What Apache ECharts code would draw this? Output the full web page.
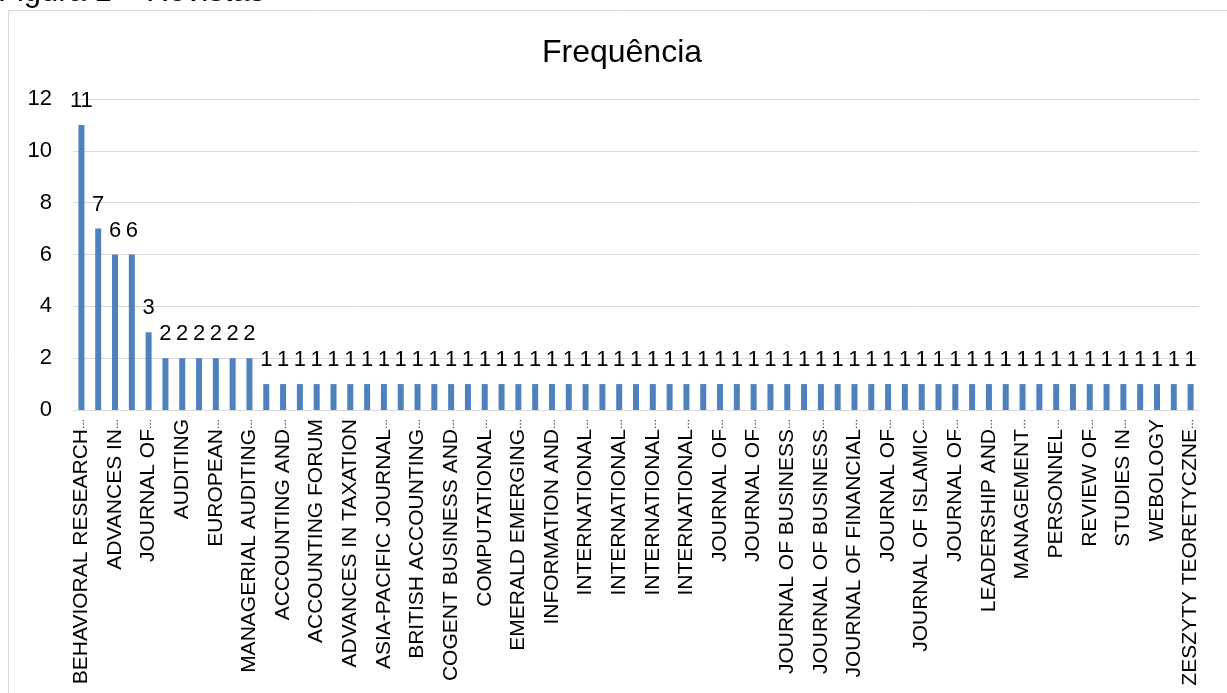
<!DOCTYPE html>
<html><head><meta charset="utf-8">
<script src="https://cdn.jsdelivr.net/npm/echarts@6/dist/echarts.min.js"></script>
<style>html,body{margin:0;padding:0;background:#fff}#c{width:1227px;height:693px}</style>
</head><body><div id="c"></div>
<script>
const pageTitle = 'Figura 1 – Revistas';
const chartTitle = 'Frequência';
const categories = [
 'BEHAVIORAL RESEARCH…','AUDITING: A JOURNAL…','ADVANCES IN…','ACCOUNTING HORIZONS','JOURNAL OF…',
 'CONTEMPORARY…','AUDITING','CURRENT ISSUES IN…','EUROPEAN…','JOURNAL OF ACCOUNTING…',
 'MANAGERIAL AUDITING…','ACCOUNTING','ACCOUNTING AND…','ACCOUNTING AND FINANCE','ACCOUNTING FORUM',
 'ACCOUNTING RESEARCH…','ADVANCES IN TAXATION','AFRICAN JOURNAL…','ASIA-PACIFIC JOURNAL…','AUSTRALIAN ACCOUNTING…',
 'BRITISH ACCOUNTING…','BUSINESS ETHICS…','COGENT BUSINESS AND…','COGENT ECONOMICS…','COMPUTATIONAL…',
 'CORPORATE GOVERNANCE…','EMERALD EMERGING…','FINANCIAL INNOVATION','INFORMATION AND…','INTERNATIONAL…',
 'INTERNATIONAL…','INTERNATIONAL…','INTERNATIONAL…','INTERNATIONAL…','INTERNATIONAL…',
 'INTERNATIONAL…','INTERNATIONAL…','JOURNAL OF…','JOURNAL OF…','JOURNAL OF…',
 'JOURNAL OF…','JOURNAL OF…','JOURNAL OF BUSINESS…','JOURNAL OF BUSINESS…','JOURNAL OF BUSINESS…',
 'JOURNAL OF…','JOURNAL OF FINANCIAL…','JOURNAL OF…','JOURNAL OF…','JOURNAL OF…',
 'JOURNAL OF ISLAMIC…','JOURNAL OF…','JOURNAL OF…','JOURNAL OF…','LEADERSHIP AND…',
 'MANAGEMENT…','MANAGEMENT…','MANAGERIAL FINANCE','PERSONNEL…','QUALITATIVE RESEARCH…',
 'REVIEW OF…','SOCIAL RESPONSIBILITY…','STUDIES IN…','SUSTAINABILITY','WEBOLOGY',
 'WORLD REVIEW OF…','ZESZYTY TEORETYCZNE…'
];
const values = [
 11,7,6,6,3,
 2,2,2,2,2,2,
 1,1,1,1,1,1,1,1,1,1,1,1,1,1,1,1,1,1,1,1,1,1,1,1,1,1,1,1,1,1,1,1,1,1,1,1,1,1,1,1,1,1,1,1,1,1,1,1,1,1,1,1,1,1,1,1
];
const yTicks = [0,2,4,6,8,10,12];

const font = '"Liberation Sans", Arial, sans-serif';
const chart = echarts.init(document.getElementById('c'));
chart.setOption({
  animation:false,
  graphic:[
    {type:'rect', shape:{x:8.5,y:10.5,width:1230,height:700}, style:{fill:'none',stroke:'#d9d9d9',lineWidth:1}, z:-1},
    {type:'text', left:-2, top:-23, style:{text:pageTitle, font:'31px '+font, fill:'#000'}}
  ],
  title:{text:chartTitle, left:617, top:32, textAlign:'center',
    textStyle:{fontFamily:font, fontSize:32, fontWeight:'normal', color:'#000'}},
  grid:{left:73, right:28, top:99, bottom:283, containLabel:false},
  xAxis:{type:'category', data:categories,
    axisLine:{lineStyle:{color:'#d9d9d9', width:1}},
    axisTick:{show:false},
    axisLabel:{interval:1, rotate:90, margin:9, fontFamily:font, fontSize:21, color:'#000',
      formatter:s=>s.endsWith('…') ? '{t|'+s.slice(0,-1)+'}{e|…}' : '{t|'+s+'}',
      rich:{t:{fontFamily:font, fontSize:21, color:'#000'},
            e:{fontFamily:font, fontSize:10, color:'#000'}}}},
  yAxis:{type:'value', min:0, max:12, interval:2,
    axisLine:{show:false}, axisTick:{show:false},
    axisLabel:{fontFamily:font, fontSize:22, color:'#000', margin:21,
      formatter:v=>yTicks.includes(v)?String(v):''},
    splitLine:{lineStyle:{color:'#d9d9d9', width:1}}},
  series:[{type:'bar', data:values, barWidth:6, itemStyle:{color:'#4F81BD'},
    label:{show:true, position:'top', distance:13, fontFamily:font, fontSize:22, color:'#000'}}]
});
</script></body></html>
